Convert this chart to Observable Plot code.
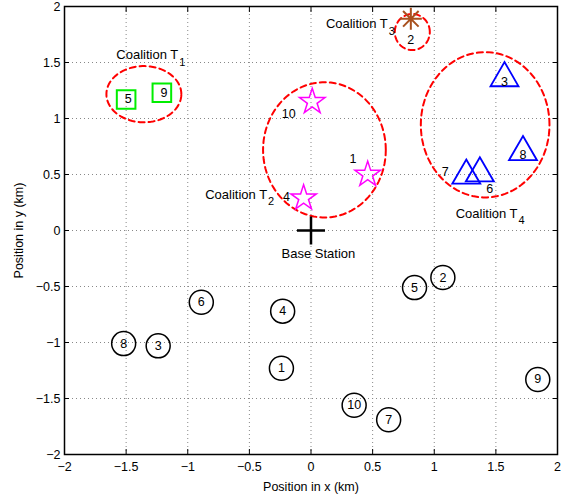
<!DOCTYPE html>
<html><head><meta charset="utf-8">
<script src="https://cdn.jsdelivr.net/npm/d3@7"></script>
<script src="https://cdn.jsdelivr.net/npm/@observablehq/plot@0.6"></script>
<style>body{margin:0;background:#fff} #chart svg{display:block}</style>
</head><body><div id="chart"></div>
<script>
// ---------- data ----------
const axisTicks = [-2, -1.5, -1, -0.5, 0, 0.5, 1, 1.5, 2];
const gridTicks = [-1.5, -1, -0.5, 0, 0.5, 1, 1.5];

// users not in any coalition (circles)
const freeIds = [1, 2, 3, 4, 5, 6, 7, 8, 9, 10];
const freeX = [-0.24, 1.07, -1.24, -0.23, 0.84, -0.89, 0.63, -1.52, 1.84, 0.35];
const freeY = [-1.23, -0.42, -1.03, -0.72, -0.51, -0.64, -1.69, -1.01, -1.33, -1.56];

// coalition T1 (squares)
const t1Ids = [5, 9];
const t1X = [-1.50, -1.21];
const t1Y = [1.17, 1.23];

// coalition T2 (stars)
const t2Ids = [10, 1, 4];
const t2X = [0.01, 0.46, -0.06];
const t2Y = [1.15, 0.50, 0.29];
const t2LabelX = [-0.18, 0.34, -0.20];
const t2LabelY = [1.04, 0.635, 0.30];

// coalition T3 (asterisk)
const t3Ids = [2];
const t3X = [0.81];
const t3Y = [1.89];
const t3LabelX = [0.81];
const t3LabelY = [1.70];

// coalition T4 (triangles)
const t4Ids = [3, 8, 7, 6];
const t4X = [1.57, 1.72, 1.26, 1.37];
const t4Y = [1.36, 0.70, 0.49, 0.51];
const t4LabelX = [1.57, 1.72, 1.09, 1.45];
const t4LabelY = [1.33, 0.67, 0.52, 0.37];

// coalition regions
const coalitionNames = ["1", "2", "3", "4"];
const coalitionCX = [-1.356, 0.109, 0.822, 1.413];
const coalitionCY = [1.217, 0.72, 1.772, 0.944];
const coalitionRX = [0.304, 0.498, 0.142, 0.522];
const coalitionRY = [0.251, 0.604, 0.161, 0.649];
const coalitionLabelX = [-1.077, -0.356, 0.623, 1.676];
const coalitionLabelY = [1.566, 0.322, 1.843, 0.152];

// base station
const bsX = [0];
const bsY = [0];
const bsLabel = ["Base Station"];
const bsLabelX = [0.06];
const bsLabelY = [-0.205];

// ---------- tables ----------
const free = freeIds.map((id, i) => ({id, x: freeX[i], y: freeY[i]}));
const t1 = t1Ids.map((id, i) => ({id, x: t1X[i], y: t1Y[i]}));
const t2 = t2Ids.map((id, i) => ({id, x: t2X[i], y: t2Y[i], lx: t2LabelX[i], ly: t2LabelY[i]}));
const t3 = t3Ids.map((id, i) => ({id, x: t3X[i], y: t3Y[i], lx: t3LabelX[i], ly: t3LabelY[i]}));
const t4 = t4Ids.map((id, i) => ({id, x: t4X[i], y: t4Y[i], lx: t4LabelX[i], ly: t4LabelY[i]}));
const coalitions = coalitionNames.map((n, i) => ({n, cx: coalitionCX[i], cy: coalitionCY[i], rx: coalitionRX[i], ry: coalitionRY[i], lx: coalitionLabelX[i], ly: coalitionLabelY[i]}));
const ellipsePts = coalitions.flatMap(c => d3.range(0, 361, 4).map(a => ({
  n: c.n,
  x: c.cx + c.rx * Math.cos(a * Math.PI / 180),
  y: c.cy + c.ry * Math.sin(a * Math.PI / 180)
})));
const bs = bsX.map((x, i) => ({x, y: bsY[i], label: bsLabel[i], lx: bsLabelX[i], ly: bsLabelY[i]}));

// ---------- custom symbols ----------
const asterisk8 = {draw(ctx, size) {
  const r = Math.sqrt(size / Math.PI);
  const d = r * Math.SQRT1_2;
  ctx.moveTo(-r, 0); ctx.lineTo(r, 0);
  ctx.moveTo(0, -r); ctx.lineTo(0, r);
  ctx.moveTo(-d, -d); ctx.lineTo(d, d);
  ctx.moveTo(-d, d); ctx.lineTo(d, -d);
}};
const plusLines = {draw(ctx, size) {
  const r = Math.sqrt(size / Math.PI);
  ctx.moveTo(-r, 0); ctx.lineTo(r, 0);
  ctx.moveTo(0, -r); ctx.lineTo(0, r);
}};

const font = "Liberation Sans, Arial, Helvetica, sans-serif";
const fmt = d3.format("");

const chart = Plot.plot({
  width: 567,
  height: 495,
  marginLeft: 64,
  marginRight: 10,
  marginTop: 6,
  marginBottom: 41,
  style: {fontFamily: font, fontSize: "12px", color: "black", background: "white"},
  x: {domain: [-2, 2]},
  y: {domain: [-2, 2]},
  marks: [
    Plot.gridX(gridTicks, {stroke: "#888", strokeOpacity: 1, strokeWidth: 1, strokeDasharray: "1,3"}),
    Plot.gridY(gridTicks, {stroke: "#888", strokeOpacity: 1, strokeWidth: 1, strokeDasharray: "1,3"}),
    Plot.axisX(axisTicks, {anchor: "bottom", tickSize: -5, tickPadding: 13, tickFormat: fmt, label: "Position in x (km)", labelAnchor: "center", labelArrow: "none", labelOffset: 36, fontSize: 12.5}),
    Plot.axisX(axisTicks, {anchor: "top", tickSize: -5, tickFormat: () => "", label: null}),
    Plot.axisY(axisTicks, {anchor: "left", tickSize: -5, tickPadding: 9, tickFormat: fmt, label: "Position in y (km)", labelAnchor: "center", labelArrow: "none", labelOffset: 50, fontSize: 12.5}),
    Plot.axisY(axisTicks, {anchor: "right", tickSize: -5, tickFormat: () => "", label: null}),
    Plot.frame({stroke: "black", strokeWidth: 1.5}),

    // coalition regions
    Plot.line(ellipsePts, {x: "x", y: "y", z: "n", stroke: "red", strokeWidth: 2, strokeDasharray: "6,4", curve: "linear"}),
    Plot.text(coalitions, {x: "lx", y: "ly", text: () => "Coalition T", textAnchor: "end", fontSize: 13}),
    Plot.text(coalitions, {x: "lx", y: "ly", text: "n", textAnchor: "start", dx: 1, dy: 7, fontSize: 11}),

    // free users
    Plot.dot(free, {x: "x", y: "y", r: 12, stroke: "black", strokeWidth: 1.5, fill: "none"}),
    Plot.text(free, {x: "x", y: "y", text: "id", fontSize: 12.5}),

    // T1 squares
    Plot.dot(t1, {x: "x", y: "y", symbol: "square", r: 10.5, stroke: "#00ee00", strokeWidth: 2, fill: "none"}),
    Plot.text(t1, {x: "x", y: "y", text: "id", fontSize: 12.5, dx: 2}),

    // T2 stars
    Plot.dot(t2, {x: "x", y: "y", symbol: "star", r: 8, stroke: "magenta", strokeWidth: 1.5, fill: "none"}),
    Plot.text(t2, {x: "lx", y: "ly", text: "id", fontSize: 12.5}),

    // T3 asterisk
    Plot.dot(t3, {x: "x", y: "y", symbol: asterisk8, r: 11, stroke: "#a8501e", strokeWidth: 2, fill: "none"}),
    Plot.text(t3, {x: "lx", y: "ly", text: "id", fontSize: 12.5}),

    // T4 triangles
    Plot.dot(t4, {x: "x", y: "y", symbol: "triangle", r: 10.4, stroke: "blue", strokeWidth: 1.8, fill: "none"}),
    Plot.text(t4, {x: "lx", y: "ly", text: "id", fontSize: 12.5}),

    // base station
    Plot.dot(bs, {x: "x", y: "y", symbol: plusLines, r: 14, stroke: "black", strokeWidth: 2.5, fill: "none"}),
    Plot.text(bs, {x: "lx", y: "ly", text: "label", fontSize: 13})
  ]
});
document.getElementById("chart").appendChild(chart);
</script>
</body></html>
